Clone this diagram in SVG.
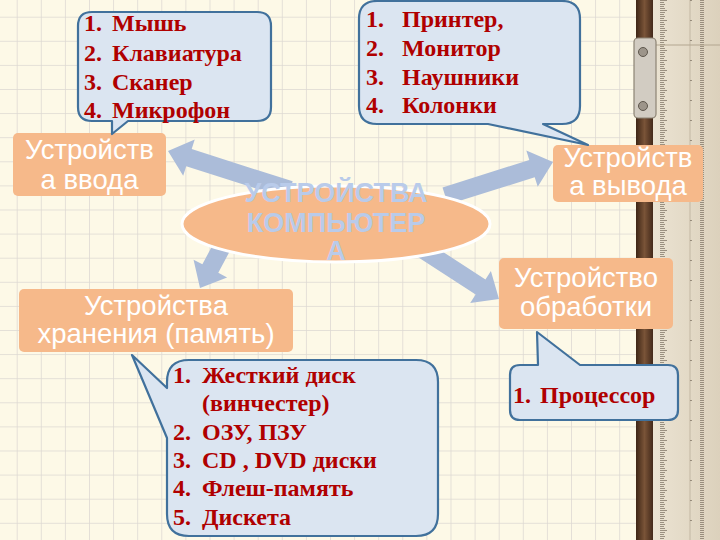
<svg xmlns="http://www.w3.org/2000/svg" width="720" height="540" viewBox="0 0 720 540">
  <defs>
    <pattern id="grid" x="16.7" y="16.7" width="24.1" height="24.1" patternUnits="userSpaceOnUse">
      <path d="M0,0 H24.1 M0,0 V24.1" stroke="#dcd8d2" stroke-width="1.5" fill="none"/>
    </pattern>
    <pattern id="ticks" x="0" y="0" width="20" height="20" patternUnits="userSpaceOnUse">
      <path d="M0,0.5 H12 M0,2.5 H4 M0,4.5 H5 M0,6.5 H4 M0,8.5 H5 M0,10.5 H8 M0,12.5 H5 M0,14.5 H4 M0,16.5 H5 M0,18.5 H4" stroke="#7a6f60" stroke-width="0.7"/>
    </pattern>
    <linearGradient id="wood" x1="0" x2="1" y1="0" y2="0">
      <stop offset="0" stop-color="#3e2616"/>
      <stop offset="0.5" stop-color="#7a5438"/>
      <stop offset="1" stop-color="#43291a"/>
    </linearGradient>
    <linearGradient id="rulerG" x1="0" x2="1" y1="0" y2="0">
      <stop offset="0" stop-color="#ebe3d2"/>
      <stop offset="1" stop-color="#dcd1bc"/>
    </linearGradient>
    <style>
      .box { fill: #f6b98a; }
      .boxtxt { font-family: "Liberation Sans", Arial, sans-serif; font-size: 27.5px; fill: #ffffff; text-anchor: middle; }
      .callout { fill: #dbe5f1; stroke: #41719c; stroke-width: 2.2; stroke-linejoin: round; }
      .list { font-family: "Liberation Serif", "Times New Roman", serif; font-weight: bold; font-size: 24px; fill: #b00000; }
      .arrow { fill: #abbcd9; }
      .title { font-family: "Liberation Sans", Arial, sans-serif; font-weight: bold; font-size: 27px; fill: #b9cbea; text-anchor: middle; }
    </style>
  </defs>

  <!-- background paper -->
  <rect x="0" y="0" width="720" height="540" fill="#fdf9e7"/>
  <rect x="0" y="0" width="720" height="540" fill="url(#grid)"/>

  <!-- ruler -->
  <g id="ruler">
    <rect x="636" y="0" width="17" height="540" fill="url(#wood)"/>
    <rect x="653" y="0" width="67" height="540" fill="url(#rulerG)"/>
    <line x1="690" y1="0" x2="690" y2="540" stroke="#c2b7a3" stroke-width="1"/>
    <rect x="653" y="0" width="14" height="540" fill="url(#ticks)"/>
    <rect x="690" y="0" width="14" height="540" fill="url(#ticks)"/>
    <line x1="653" y1="45" x2="720" y2="45" stroke="#b3a690" stroke-width="1"/>
    <rect x="634" y="38" width="22" height="80" rx="4" fill="#d2ccc2" stroke="#8d8474" stroke-width="1.2"/>
    <circle cx="643" cy="52" r="4.5" fill="#9d958a" stroke="#5e574c" stroke-width="1"/>
    <circle cx="643" cy="106" r="4.5" fill="#9d958a" stroke="#5e574c" stroke-width="1"/>
  </g>

  <!-- connectors -->
  <g id="connectors">
    <path class="arrow" d="M-128,-9 H-22 V-19 L0,0 L-22,19 V9 H-128 Z" transform="translate(168,151) rotate(197.7)"/>
    <path class="arrow" d="M-113,-9 H-22 V-19 L0,0 L-22,19 V9 H-113 Z" transform="translate(553,162) rotate(-17.5)"/>
    <path class="arrow" d="M-55,-9 H-22 V-19 L0,0 L-22,19 V9 H-55 Z" transform="translate(200,288) rotate(118)"/>
    <path class="arrow" d="M-100,-9 H-22 V-19 L0,0 L-22,19 V9 H-100 Z" transform="translate(499,299) rotate(33)"/>
  </g>

  <!-- central node -->
  <g id="center">
    <ellipse cx="336" cy="224" rx="154" ry="38" fill="#f6b98a" stroke="#ffffff" stroke-width="3"/>
    <text class="title" x="336" y="202">УСТРОЙСТВА</text>
    <text class="title" x="336" y="232">КОМПЬЮТЕР</text>
    <text class="title" x="336" y="260">А</text>
  </g>

  <g id="input">
    <rect class="box" x="13" y="133" width="153" height="63" rx="5"/>
    <text class="boxtxt" x="89.5" y="159">Устройств</text>
    <text class="boxtxt" x="89.5" y="189">а ввода</text>
  </g>

  <g id="output">
    <rect class="box" x="553" y="145" width="150" height="57" rx="5"/>
    <text class="boxtxt" x="628" y="167">Устройств</text>
    <text class="boxtxt" x="628" y="195">а вывода</text>
  </g>

  <g id="storage">
    <rect class="box" x="19" y="289" width="274" height="63" rx="5"/>
    <text class="boxtxt" x="156" y="315">Устройства</text>
    <text class="boxtxt" x="156" y="343">хранения (память)</text>
  </g>

  <g id="processing">
    <rect class="box" x="499" y="258" width="174" height="71" rx="5"/>
    <text class="boxtxt" x="586" y="287">Устройство</text>
    <text class="boxtxt" x="586" y="316">обработки</text>
  </g>

  <!-- callouts -->
  <g id="callout-input">
    <path class="callout" d="M92,12 H257 Q271,12 271,26 V107 Q271,121 257,121 H128 L112,134 L112,121 H92 Q78,121 78,107 V26 Q78,12 92,12 Z"/>
    <text class="list" y="31"><tspan x="84">1.</tspan><tspan x="112">Мышь</tspan></text>
    <text class="list" y="61"><tspan x="84">2.</tspan><tspan x="112">Клавиатура</tspan></text>
    <text class="list" y="90"><tspan x="84">3.</tspan><tspan x="112">Сканер</tspan></text>
    <text class="list" y="118"><tspan x="84">4.</tspan><tspan x="112">Микрофон</tspan></text>
  </g>

  <g id="callout-output">
    <path class="callout" d="M377,1 H562 Q580,1 580,19 V106 Q580,124 562,124 H543 L588,145 L488,124 H377 Q359,124 359,106 V19 Q359,1 377,1 Z"/>
    <text class="list" y="27"><tspan x="366">1.</tspan><tspan x="402">Принтер,</tspan></text>
    <text class="list" y="56"><tspan x="366">2.</tspan><tspan x="402">Монитор</tspan></text>
    <text class="list" y="85"><tspan x="366">3.</tspan><tspan x="402">Наушники</tspan></text>
    <text class="list" y="113"><tspan x="366">4.</tspan><tspan x="402">Колонки</tspan></text>
  </g>

  <g id="callout-storage">
    <path class="callout" d="M189,360 H416 Q438,360 438,382 V514 Q438,536 416,536 H189 Q167,536 167,514 V438 L132,355 L167,388 V382 Q167,360 189,360 Z"/>
    <text class="list" y="383"><tspan x="173">1.</tspan><tspan x="202">Жесткий диск</tspan></text>
    <text class="list" x="202" y="411">(винчестер)</text>
    <text class="list" y="440"><tspan x="173">2.</tspan><tspan x="202">ОЗУ, ПЗУ</tspan></text>
    <text class="list" y="468"><tspan x="173">3.</tspan><tspan x="202">CD , DVD диски</tspan></text>
    <text class="list" y="496"><tspan x="173">4.</tspan><tspan x="202">Флеш-память</tspan></text>
    <text class="list" y="525"><tspan x="173">5.</tspan><tspan x="202">Дискета</tspan></text>
  </g>

  <g id="callout-processing">
    <path class="callout" d="M520,365 H538 L537,332 L580,365 H668 Q678,365 678,375 V410 Q678,420 668,420 H520 Q510,420 510,410 V375 Q510,365 520,365 Z"/>
    <text class="list" y="403"><tspan x="513">1.</tspan><tspan x="540">Процессор</tspan></text>
  </g>
</svg>
